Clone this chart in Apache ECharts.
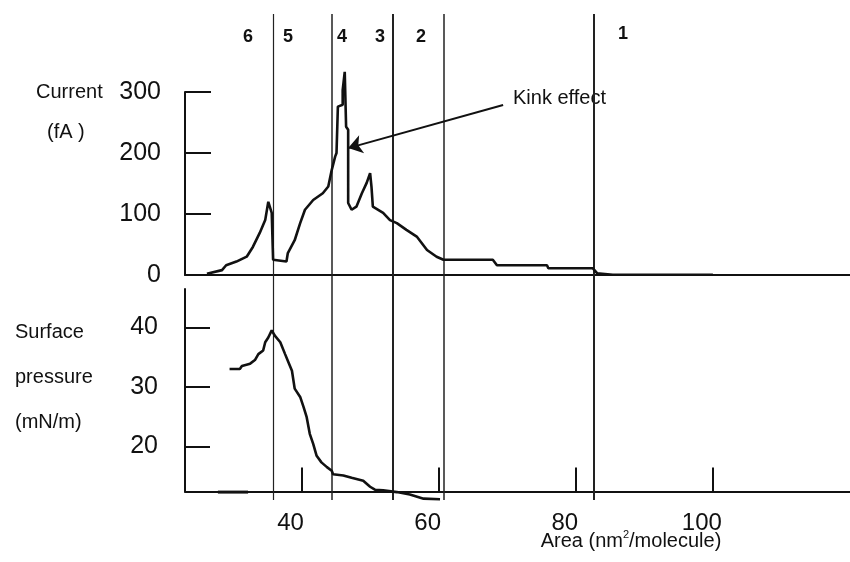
<!DOCTYPE html>
<html>
<head>
<meta charset="utf-8">
<script src="https://cdn.jsdelivr.net/npm/echarts@6/dist/echarts.min.js"></script>
<style>
html,body{margin:0;padding:0;background:#fff;}
#c{width:850px;height:562px;}
</style>
</head>
<body>
<div id="c"></div>
<script>
// ---- data ----
const currentArea = [26.2, 28.4, 29.0, 30.5, 32.0, 32.9, 33.9, 34.7, 35.15, 35.65, 35.85, 36.1, 37.8, 38.0, 39.0, 39.8, 40.5, 41.7, 43.1, 43.9, 44.4, 44.9, 45.1, 45.3, 46.0, 46.0, 46.3, 46.5, 46.8, 46.8, 47.3, 48.0, 48.8, 49.5, 50.0, 50.2, 50.4, 51.9, 52.9, 53.9, 55.3, 56.8, 58.3, 59.7, 60.7, 67.9, 68.5, 75.8, 76.0, 82.5, 83.1, 85.4, 100];
const currentValues = [2, 8, 16, 22, 30, 46, 69, 90, 120, 102, 25, 22, 22, 36, 57, 85, 107, 123, 134, 145, 172, 194, 200, 276, 279, 303, 333, 243, 238, 118, 107, 112, 134, 151, 167, 145, 112, 102, 90, 85, 74, 63, 41, 30, 25, 25, 16, 16, 11, 11, 3, 0.5, 0.5];

const pressureArea = [29.5, 31.0, 31.3, 32.5, 33.2, 33.7, 34.4, 34.7, 35.15, 35.65, 36.1, 36.9, 37.6, 38.1, 38.6, 39.0, 39.8, 40.3, 40.75, 41.2, 41.7, 42.2, 42.9, 43.7, 44.4, 44.6, 46.1, 47.3, 49.0, 50.0, 50.7, 51.9, 53.9, 55.8, 57.8, 60.2];
const pressureValues = [33.0, 33.0, 33.5, 33.9, 34.5, 35.5, 36.1, 37.5, 38.3, 39.5, 38.6, 37.5, 35.5, 34.1, 32.7, 29.7, 28.3, 26.6, 24.9, 22.1, 20.4, 18.4, 17.3, 16.5, 15.9, 15.3, 15.1, 14.7, 14.2, 13.2, 12.7, 12.6, 12.3, 11.9, 11.2, 11.1];

const pressureStubArea = [27.8, 32.2];
const pressureStubValues = [12.3, 12.3];

const regionBounds = [35.9, 44.4, 53.3, 60.7, 82.6];
const regionLabels = ['6', '5', '4', '3', '2', '1'];

const areaTicks = [40, 60, 80, 100];
const currentTicks = [0, 100, 200, 300];
const pressureTicks = [20, 30, 40];

const kinkArrow = [[69.4, 278.7], [46.8, 208]];

// ---- chart ----
const FONT = "'Liberation Sans', Arial, Helvetica, sans-serif";
const INK = '#111';
const zip = (a, b) => a.map((v, i) => [v, b[i]]);

const chart = echarts.init(document.getElementById('c'), null, {renderer: 'canvas'});

const regionWidths = [1.2, 1.5, 2, 1.5, 2];
const regionLabelPos = [[248, 37], [288, 37], [342, 37], [380, 37], [421, 37], [623, 34]];

const option = {
  animation: false,
  backgroundColor: '#fff',
  grid: [
    {left: 185, right: 0, top: 92, height: 183},
    {left: 185, right: 0, top: 289, height: 202.5},
    {left: 185, right: 0, top: 14, height: 486}
  ],
  xAxis: [
    {
      type: 'value', gridIndex: 0, min: 23, max: 120,
      axisLine: {show: true, onZero: true, lineStyle: {color: INK, width: 2}},
      axisTick: {show: false}, axisLabel: {show: false}, splitLine: {show: false}
    },
    {
      type: 'value', gridIndex: 1, min: 23, max: 120,
      axisLine: {show: true, onZero: false, lineStyle: {color: INK, width: 2}},
      axisTick: {show: true, inside: true, length: 24, customValues: areaTicks, lineStyle: {color: INK, width: 2}},
      axisLabel: {show: true, customValues: areaTicks, fontSize: 24, fontFamily: FONT, color: INK, margin: 20, padding: [0, 22, 0, 0]},
      splitLine: {show: false}
    },
    {
      type: 'value', gridIndex: 2, min: 23, max: 120, show: false
    }
  ],
  yAxis: [
    {
      type: 'value', gridIndex: 0, min: 0, max: 300, interval: 100,
      axisLine: {show: true, lineStyle: {color: INK, width: 2}},
      axisTick: {show: true, inside: true, length: 26, customValues: currentTicks, lineStyle: {color: INK, width: 2}},
      axisLabel: {show: true, customValues: currentTicks, fontSize: 25, fontFamily: FONT, color: INK, margin: 24, padding: [5, 0, 0, 0]},
      splitLine: {show: false}
    },
    {
      type: 'value', gridIndex: 1, min: 12.4, max: 46.45,
      axisLine: {show: true, onZero: false, lineStyle: {color: INK, width: 2}},
      axisTick: {show: true, inside: true, length: 25, customValues: pressureTicks, lineStyle: {color: INK, width: 2}},
      axisLabel: {show: true, customValues: pressureTicks, fontSize: 25, fontFamily: FONT, color: INK, margin: 27, padding: [12, 0, 0, 0]},
      splitLine: {show: false}
    },
    {
      type: 'value', gridIndex: 2, min: 0, max: 1, show: false
    }
  ],
  series: [
    {
      name: 'Current', type: 'line', xAxisIndex: 0, yAxisIndex: 0,
      data: zip(currentArea, currentValues), showSymbol: false, symbol: 'none', clip: false,
      lineStyle: {color: INK, width: 2.6}, itemStyle: {color: INK}, z: 5
    },
    {
      name: 'Kink arrow', type: 'lines', coordinateSystem: 'cartesian2d', xAxisIndex: 0, yAxisIndex: 0,
      polyline: false, silent: true, z: 6,
      symbol: ['none', 'arrow'], symbolSize: 14,
      lineStyle: {color: INK, width: 2, opacity: 1},
      itemStyle: {color: INK},
      data: [{coords: kinkArrow}]
    },
    {
      name: 'Surface pressure', type: 'line', xAxisIndex: 1, yAxisIndex: 1,
      data: zip(pressureArea, pressureValues), showSymbol: false, symbol: 'none', clip: false,
      lineStyle: {color: INK, width: 2.6}, z: 5
    },
    {
      name: 'stub', type: 'line', xAxisIndex: 1, yAxisIndex: 1,
      data: zip(pressureStubArea, pressureStubValues), showSymbol: false, symbol: 'none', clip: false,
      lineStyle: {color: INK, width: 3}, z: 5
    },
    {
      name: 'regions', type: 'line', xAxisIndex: 2, yAxisIndex: 2, data: [],
      markLine: {
        silent: true, symbol: ['none', 'none'], label: {show: false},
        lineStyle: {color: '#222', type: 'solid'},
        data: regionBounds.map((v, i) => ({xAxis: v, lineStyle: {width: regionWidths[i], color: '#222', type: 'solid'}}))
      }
    }
  ],
  graphic: [
    {type: 'text', x: 36, y: 92, style: {text: 'Current', font: '20px ' + FONT, fill: INK, textAlign: 'left', textVerticalAlign: 'middle'}},
    {type: 'text', x: 47, y: 132, style: {text: '(fA )', font: '20px ' + FONT, fill: INK, textAlign: 'left', textVerticalAlign: 'middle'}},
    {type: 'text', x: 15, y: 332, style: {text: 'Surface', font: '20px ' + FONT, fill: INK, textAlign: 'left', textVerticalAlign: 'middle'}},
    {type: 'text', x: 15, y: 377, style: {text: 'pressure', font: '20px ' + FONT, fill: INK, textAlign: 'left', textVerticalAlign: 'middle'}},
    {type: 'text', x: 15, y: 422, style: {text: '(mN/m)', font: '20px ' + FONT, fill: INK, textAlign: 'left', textVerticalAlign: 'middle'}},
    {type: 'text', x: 513, y: 98, style: {text: 'Kink effect', font: '20px ' + FONT, fill: INK, textAlign: 'left', textVerticalAlign: 'middle'}},
    {type: 'text', x: 631, y: 541, style: {
      text: 'Area (nm{sup|2}/molecule)', font: '20px ' + FONT, fill: INK, textAlign: 'center', textVerticalAlign: 'middle',
      rich: {sup: {fontSize: 11, fontFamily: FONT, fill: INK, verticalAlign: 'top', padding: [0, 0, 12, 0]}}
    }}
  ].concat(regionLabels.map((t, i) => ({
    type: 'text', x: regionLabelPos[i][0], y: regionLabelPos[i][1],
    style: {text: t, font: 'bold 18px ' + FONT, fill: INK, textAlign: 'center', textVerticalAlign: 'middle'}
  })))
};

chart.setOption(option);
</script>
</body>
</html>
